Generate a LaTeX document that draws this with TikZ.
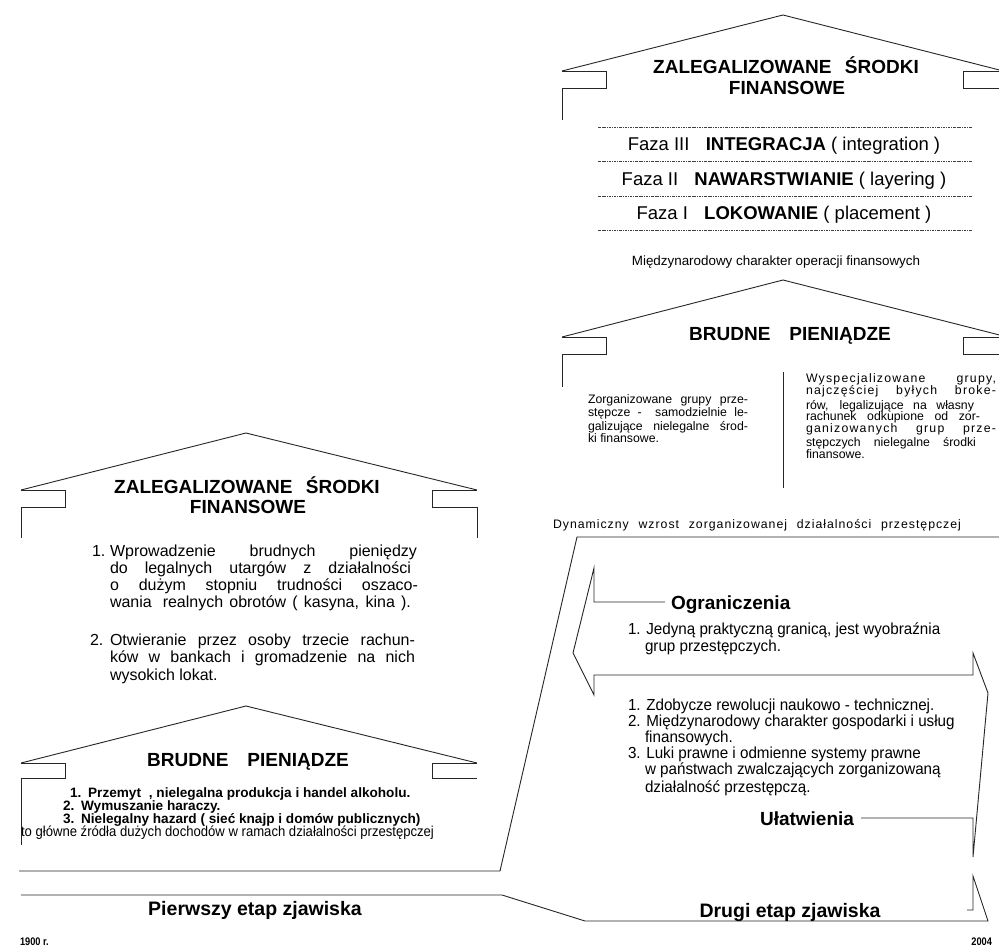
\documentclass[tikz,border=0pt]{standalone}
\usepackage{fontspec}
\setmainfont{Liberation Sans}
\newfontfamily\narrowsans[FakeStretch=0.95]{Liberation Sans}
\newfontfamily\tightsans[FakeStretch=0.84]{Liberation Sans}
\newcommand{\fsz}[1]{\fontsize{#1}{#1}\selectfont}
\newcommand{\wide}[1]{\addfontfeature{LetterSpace=#1}}

\begin{document}
\begin{tikzpicture}[x=1pt,y=-1pt,
  every node/.style={inner sep=0pt, outer sep=0pt},
  outline/.style={draw=black!85, line width=0.9pt, line join=miter},
  phase/.style={draw=black!75, line width=0.7pt, dash pattern=on 2.5pt off 1pt on 0.8pt off 1pt},
  roofttl/.style={font={\fsz{19}\bfseries}, anchor=base},
  phasetxt/.style={font={\fsz{18.5}}, anchor=base},
  smalltxt/.style={font={\fsz{12.3}}, anchor=base west},
  listtxt/.style={font={\fsz{16}}, anchor=base west},
  boldlist/.style={font={\fsz{13.6}\bfseries}, anchor=base west},
  midlist/.style={font={\narrowsans\fsz{16}}, anchor=base west},
  headtxt/.style={font={\fsz{19}\bfseries}},
  stagetxt/.style={font={\fsz{19.5}\bfseries}, anchor=base},
  yeartxt/.style={font={\tightsans\fsz{11}\bfseries}}
]
\useasboundingbox (0,0) rectangle (999,950);
\fill[white] (0,0) rectangle (999,950);

% ---------- second stage: legalised funds roof with the three phases ----------
\draw[outline] (562,71) -- (783,15) -- (999.5,70);
\draw[outline] (562,71) -- (606,71) -- (606,88) -- (562,88) -- (562,120);
\draw[outline] (999.5,71) -- (963,71) -- (963,88) -- (999.5,88);
\node[roofttl] (zalB1) at (786,73.5) {ZALEGALIZOWANE\hspace{0.7em}ŚRODKI};
\node[roofttl] (zalB2) at (787,95) {FINANSOWE};

\draw[phase] (598,127) -- (972,127);
\draw[phase] (598,161) -- (972,161);
\draw[phase] (598,196) -- (972,196);
\draw[phase] (598,230) -- (972,230);
\node[phasetxt] (faza3) at (784,150.5) {Faza III\hspace{0.6em} \textbf{INTEGRACJA} ( integration )};
\node[phasetxt] (faza2) at (784,185) {Faza II\hspace{0.6em} \textbf{NAWARSTWIANIE} ( layering )};
\node[phasetxt] (faza1) at (784,219.5) {Faza I\hspace{0.6em} \textbf{LOKOWANIE} ( placement )};

\node[font={\fsz{13.4}}, anchor=base] (miedzy) at (776,265) {Międzynarodowy charakter operacji finansowych};

% ---------- second stage: dirty money roof ----------
\draw[outline] (562,337) -- (783,280) -- (999.5,335);
\draw[outline] (562,337) -- (606,337) -- (606,354) -- (562,354) -- (562,387);
\draw[outline] (999.5,337) -- (963,337) -- (963,354) -- (999.5,354);
\node[roofttl] (brudB) at (790,340) {BRUDNE\hspace{1em}PIENIĄDZE};
\draw[outline] (783,372) -- (783,488);

\node[smalltxt] (zorg1) at (588,403) {\makebox[160pt][s]{Zorganizowane grupy prze-}};
\node[smalltxt] (zorg2) at (588,416) {\makebox[160pt][s]{stępcze -\hspace{0.5em} samodzielnie le-}};
\node[smalltxt] (zorg3) at (588,430) {\makebox[160pt][s]{galizujące nielegalne środ-}};
\node[smalltxt] (zorg4) at (588,442) {ki finansowe.};

\node[smalltxt] (wysp1) at (806,382.5) {\wide{10}\makebox[190pt][s]{Wyspecjalizowane grupy,}};
\node[smalltxt] (wysp2) at (806,394) {\wide{10}\makebox[190pt][s]{najczęściej byłych broke-}};
\node[smalltxt] (wysp3) at (806,409) {\makebox[168pt][s]{rów, legalizujące na własny}};
\node[smalltxt] (wysp4) at (806,420.5) {\makebox[174pt][s]{rachunek odkupione od zor-}};
\node[smalltxt] (wysp5) at (806,432) {\wide{10}\makebox[190pt][s]{ganizowanych grup prze-}};
\node[smalltxt] (wysp6) at (806,446) {\makebox[170pt][s]{stępczych nielegalne środki}};
\node[smalltxt] (wysp7) at (806,458) {finansowe.};

\node[smalltxt] (dynam) at (553,528) {\wide{8}\makebox[408pt][s]{Dynamiczny wzrost zorganizowanej działalności przestępczej}};

% ---------- first stage: legalised funds roof ----------
\draw[outline] (21,490) -- (246,433) -- (477,490);
\draw[outline] (21,490) -- (65,490) -- (65,507) -- (21,507) -- (21,538);
\draw[outline] (477,490) -- (432,490) -- (432,507) -- (477,507) -- (477,538);
\node[roofttl] (zalA1) at (247,493) {ZALEGALIZOWANE\hspace{0.7em}ŚRODKI};
\node[roofttl] (zalA2) at (248,513) {FINANSOWE};

\node[listtxt] (l1n) at (92,556) {1.};
\node[listtxt] (l1a) at (110,556) {\makebox[307pt][s]{Wprowadzenie brudnych pieniędzy}};
\node[listtxt] (l1b) at (110,573) {\makebox[301pt][s]{do legalnych utargów z działalności}};
\node[listtxt] (l1c) at (110,590) {\makebox[308pt][s]{o dużym stopniu trudności oszaco-}};
\node[listtxt] (l1d) at (110,607) {\makebox[301pt][s]{wania\hspace{0.3em} realnych obrotów ( kasyna, kina ).}};
\node[listtxt] (l2n) at (90,645) {2.};
\node[listtxt] (l2a) at (110,645) {\makebox[305pt][s]{Otwieranie przez osoby trzecie rachun-}};
\node[listtxt] (l2b) at (110,662) {\makebox[305pt][s]{ków w bankach i gromadzenie na nich}};
\node[listtxt] (l2c) at (110,680) {wysokich lokat.};

% ---------- first stage: dirty money roof ----------
\draw[outline] (21,763) -- (246,706) -- (477,763);
\draw[outline] (21,763) -- (65,763) -- (65,778) -- (21,778) -- (21,845);
\draw[outline] (477,763) -- (432,763) -- (432,778) -- (477,778);
\node[roofttl] (brudA) at (248,766) {BRUDNE\hspace{1em}PIENIĄDZE};

\node[boldlist] (b1) at (70,797) {1.\hspace{0.5em}Przemyt\hspace{0.3em} , nielegalna produkcja i handel alkoholu.};
\node[boldlist] (b2) at (63,810) {2.\hspace{0.5em}Wymuszanie haraczy.};
\node[boldlist] (b3) at (63,823) {3.\hspace{0.5em}Nielegalny hazard ( sieć knajp i domów publicznych)};
\node[font={\fontspec{Liberation Sans}[FakeStretch=0.91]\fsz{14.4}}, anchor=base west] (glowne) at (21,836) {to główne źródła dużych dochodów w ramach działalności przestępczej};

% ---------- stage boundaries and time line ----------
\draw[outline] (19,871) -- (500,871) -- (577,537) -- (999.5,537);
\draw[outline] (21,895) -- (502,895) -- (585,921) -- (988,921) -- (973,876) -- (973,910) -- (967,910);

% ---------- limits and facilitations arrows ----------
\draw[outline] (665,602) -- (594,602) -- (594,568) -- (573,653) -- (594,695) -- (594,675)
  -- (973,675) -- (973,653) -- (988,693) -- (973,857) -- (973,818) -- (861,818);
\node[headtxt, anchor=base west] (ogr) at (671,609) {Ograniczenia};
\node[headtxt, anchor=base east] (ulat) at (854,825) {Ułatwienia};

\node[midlist] (o1) at (628,634) {1. Jedyną praktyczną granicą, jest wyobraźnia};
\node[midlist] (o1b) at (645,651) {grup przestępczych.};
\node[midlist] (u1) at (628,710) {1. Zdobycze rewolucji naukowo - technicznej.};
\node[midlist] (u2) at (628,726) {2. Międzynarodowy charakter gospodarki i usług};
\node[midlist] (u2b) at (645,742) {finansowych.};
\node[midlist] (u3) at (628,758) {3. Luki prawne i odmienne systemy prawne};
\node[midlist] (u3b) at (645,774.5) {w państwach zwalczających zorganizowaną};
\node[midlist] (u3c) at (645,792) {działalność przestępczą.};

\node[stagetxt] (etap1) at (255,915) {Pierwszy etap zjawiska};
\node[stagetxt] (etap2) at (790,917) {Drugi etap zjawiska};

\node[yeartxt, anchor=base west] (y1900) at (20,945) {1900 r.};
\node[yeartxt, anchor=base east] (y2004) at (992,945) {2004};
\end{tikzpicture}
\end{document}
